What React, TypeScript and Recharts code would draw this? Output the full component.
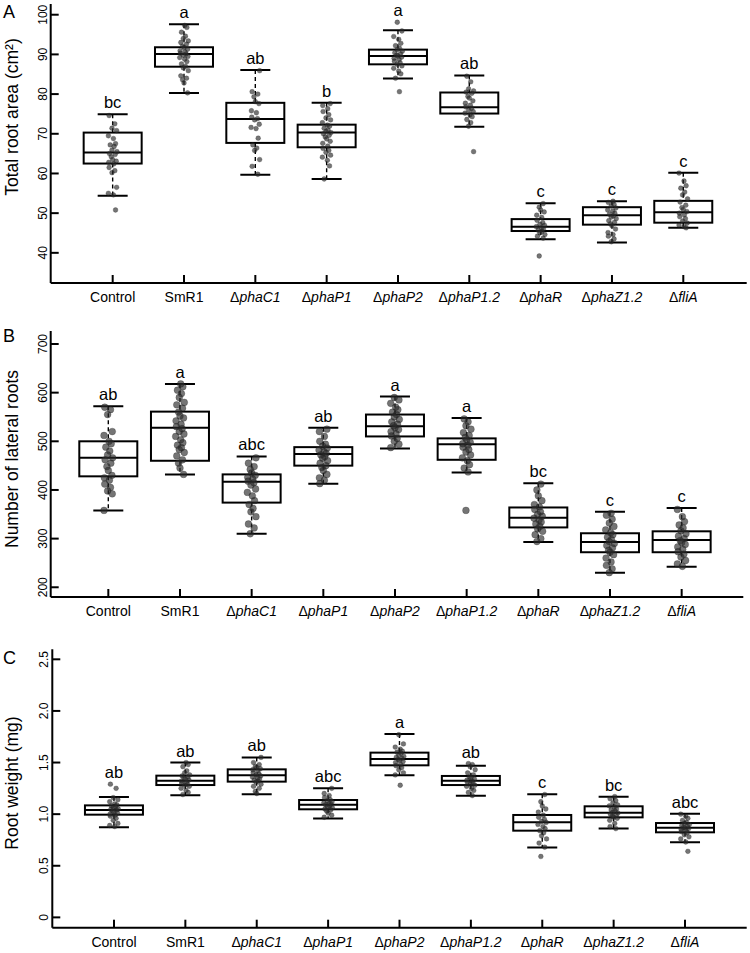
import React from 'react';
import { ComposedChart, Bar, Scatter, XAxis, YAxis } from 'recharts';

const FONT = '"Liberation Sans", Arial, Helvetica, sans-serif';

const GROUPS = ['Control', 'SmR1', 'ΔphaC1', 'ΔphaP1', 'ΔphaP2', 'ΔphaP1.2', 'ΔphaR', 'ΔphaZ1.2', 'ΔfliA'];

// small horizontal offsets (in category units) for the jittered dots
const JITTER = [-0.05, 0.03, -0.01, 0.055, -0.06, 0.01, 0.04, -0.035, 0.02, -0.01, 0.06, -0.045, 0.035, -0.02, 0.0, 0.05, -0.055, 0.015];

// Panel A: total root area (cm2) -- [min, q1, median, q3, max]
const AREA_BOX = [
  [54.4, 62.5, 65.3, 70.3, 74.9],
  [80.3, 86.9, 90.1, 91.8, 97.6],
  [59.7, 67.7, 73.7, 77.8, 86.1],
  [58.6, 66.6, 70.3, 72.3, 77.8],
  [83.9, 87.5, 89.6, 91.2, 96.1],
  [71.8, 75.1, 76.7, 80.4, 84.7],
  [43.4, 45.5, 46.6, 48.5, 52.5],
  [42.6, 47.1, 49.5, 51.5, 53.0],
  [46.3, 47.6, 50.2, 53.1, 60.2],
];
const AREA_LETTERS = ['bc', 'a', 'ab', 'b', 'a', 'ab', 'c', 'c', 'c'];
const AREA_POINTS = [
  [74.6, 72.5, 71.4, 70.8, 69.5, 68.8, 67.5, 67.2, 66.8, 65.9, 65.5, 65.0, 64.8, 64.2, 63.5, 63.1, 62.8, 62.4, 61.5, 60.7, 60.2, 56.5, 55.0, 54.6, 50.8],
  [97.3, 96.8, 95.6, 94.6, 94.0, 93.4, 93.0, 92.6, 92.1, 91.7, 91.3, 90.9, 90.6, 90.3, 90.1, 89.8, 89.5, 89.2, 88.8, 88.2, 87.6, 87.0, 86.6, 85.9, 84.6, 84.0, 83.6, 82.8, 80.3],
  [85.9, 80.6, 80.0, 79.3, 78.1, 77.6, 75.8, 75.3, 74.2, 73.8, 73.5, 72.4, 71.6, 71.3, 68.9, 67.2, 66.4, 65.8, 63.5, 61.8, 59.8],
  [77.6, 77.1, 76.3, 75.6, 74.8, 74.0, 73.5, 72.8, 72.2, 71.9, 71.4, 70.9, 70.6, 70.3, 70.0, 69.6, 69.2, 68.7, 68.1, 67.6, 66.9, 66.3, 65.8, 65.3, 64.6, 64.1, 63.3, 61.9, 58.6],
  [98.1, 95.9, 94.5, 93.8, 92.8, 92.2, 91.6, 91.2, 90.8, 90.4, 90.1, 89.8, 89.6, 89.3, 89.0, 88.7, 88.3, 87.9, 87.5, 87.1, 86.5, 85.8, 85.1, 84.0, 80.6],
  [84.5, 83.1, 81.3, 80.8, 80.5, 80.2, 79.4, 79.0, 78.3, 77.7, 77.2, 76.8, 76.4, 76.0, 75.6, 75.2, 74.8, 74.3, 73.6, 72.8, 71.9, 65.5],
  [52.4, 51.5, 50.8, 50.3, 49.5, 48.9, 48.2, 47.6, 47.2, 46.9, 46.6, 46.3, 46.0, 45.7, 45.4, 45.0, 44.6, 44.2, 43.7, 39.2],
  [53.0, 52.7, 52.2, 51.8, 51.3, 50.8, 50.5, 50.0, 49.7, 49.3, 49.0, 48.6, 48.1, 47.7, 47.3, 46.8, 46.0, 45.1, 44.6, 44.2, 43.5, 42.8],
  [60.1, 58.1, 56.9, 56.3, 55.3, 54.6, 53.6, 52.8, 52.0, 51.4, 50.9, 50.4, 50.0, 49.6, 49.1, 48.6, 48.0, 47.5, 47.0, 46.6, 46.3],
];
const AREA_TICKS = [40, 50, 60, 70, 80, 90, 100];

// Panel B: number of lateral roots
const LATERAL_BOX = [
  [358, 428, 466, 500, 572],
  [432, 460, 528, 561, 618],
  [310, 374, 417, 432, 469],
  [413, 450, 474, 488, 528],
  [485, 510, 531, 555, 592],
  [436, 462, 494, 506, 548],
  [293, 323, 343, 364, 414],
  [230, 272, 293, 311, 355],
  [242, 272, 297, 315, 363],
];
const LATERAL_LETTERS = ['ab', 'a', 'abc', 'ab', 'a', 'a', 'bc', 'c', 'c'];
const LATERAL_POINTS = [
  [570, 565, 555, 520, 512, 500, 495, 488, 480, 472, 466, 462, 455, 448, 440, 430, 425, 420, 412, 405, 398, 392, 358],
  [618, 612, 605, 598, 590, 580, 575, 568, 560, 552, 548, 542, 535, 530, 526, 520, 515, 510, 503, 497, 492, 487, 483, 477, 470, 462, 455, 445, 432],
  [466, 455, 448, 442, 435, 430, 426, 422, 418, 415, 410, 402, 395, 388, 378, 370, 362, 355, 345, 330, 322, 310],
  [525, 520, 510, 500, 494, 490, 486, 482, 478, 475, 472, 468, 465, 460, 455, 450, 446, 440, 432, 425, 420, 413],
  [590, 585, 578, 570, 565, 560, 555, 550, 545, 540, 535, 532, 528, 524, 520, 515, 511, 506, 500, 494, 487],
  [546, 540, 532, 525, 518, 512, 508, 503, 498, 495, 492, 488, 483, 478, 472, 466, 460, 452, 445, 437, 358],
  [412, 400, 388, 378, 370, 365, 360, 355, 350, 346, 342, 338, 334, 330, 325, 320, 315, 308, 300, 294],
  [352, 348, 340, 332, 325, 318, 312, 308, 303, 298, 294, 290, 286, 281, 276, 272, 267, 260, 252, 245, 238, 230],
  [360, 345, 335, 328, 322, 316, 310, 305, 300, 296, 292, 288, 283, 278, 273, 268, 262, 255, 248, 243],
];
const LATERAL_TICKS = [200, 300, 400, 500, 600, 700];

// Panel C: root weight (mg)
const WEIGHT_BOX = [
  [0.872, 0.995, 1.04, 1.085, 1.166],
  [1.182, 1.282, 1.324, 1.373, 1.5],
  [1.192, 1.315, 1.376, 1.434, 1.55],
  [0.959, 1.047, 1.092, 1.137, 1.25],
  [1.376, 1.473, 1.534, 1.596, 1.776],
  [1.179, 1.282, 1.324, 1.37, 1.47],
  [0.678, 0.84, 0.921, 0.992, 1.192],
  [0.862, 0.969, 1.014, 1.076, 1.169],
  [0.727, 0.824, 0.869, 0.914, 1.005],
];
const WEIGHT_LETTERS = ['ab', 'ab', 'ab', 'abc', 'a', 'ab', 'c', 'bc', 'abc'];
const WEIGHT_POINTS = [
  [1.29, 1.25, 1.16, 1.14, 1.12, 1.10, 1.09, 1.08, 1.07, 1.06, 1.05, 1.045, 1.04, 1.03, 1.02, 1.01, 1.0, 0.99, 0.98, 0.96, 0.94, 0.91, 0.89, 0.88],
  [1.5, 1.48, 1.46, 1.42, 1.4, 1.38, 1.37, 1.36, 1.35, 1.34, 1.33, 1.32, 1.31, 1.3, 1.29, 1.28, 1.27, 1.25, 1.23, 1.21, 1.19],
  [1.55, 1.5, 1.48, 1.46, 1.45, 1.44, 1.43, 1.42, 1.4, 1.39, 1.38, 1.37, 1.36, 1.35, 1.34, 1.33, 1.32, 1.31, 1.29, 1.27, 1.25, 1.22, 1.2],
  [1.25, 1.2, 1.18, 1.16, 1.14, 1.13, 1.12, 1.11, 1.1, 1.095, 1.09, 1.08, 1.07, 1.06, 1.05, 1.04, 1.03, 1.01, 0.99, 0.97],
  [1.77, 1.68, 1.65, 1.63, 1.61, 1.6, 1.59, 1.57, 1.56, 1.55, 1.54, 1.53, 1.52, 1.51, 1.5, 1.48, 1.47, 1.45, 1.43, 1.4, 1.38, 1.28],
  [1.49, 1.48, 1.46, 1.43, 1.4, 1.38, 1.36, 1.35, 1.34, 1.33, 1.32, 1.31, 1.3, 1.29, 1.28, 1.27, 1.25, 1.23, 1.21, 1.18],
  [1.19, 1.12, 1.08, 1.05, 1.02, 0.99, 0.97, 0.95, 0.93, 0.92, 0.9, 0.88, 0.86, 0.84, 0.82, 0.79, 0.76, 0.72, 0.68, 0.59],
  [1.17, 1.15, 1.13, 1.11, 1.09, 1.08, 1.07, 1.05, 1.04, 1.03, 1.02, 1.01, 1.0, 0.99, 0.98, 0.97, 0.96, 0.94, 0.91, 0.88, 0.86],
  [1.0, 0.98, 0.96, 0.94, 0.92, 0.91, 0.9, 0.89, 0.88, 0.87, 0.865, 0.86, 0.85, 0.84, 0.83, 0.82, 0.8, 0.78, 0.76, 0.73, 0.64],
];
const WEIGHT_TICKS = [0, 0.5, 1.0, 1.5, 2.0, 2.5];

const CAT_TICKS = [1, 2, 3, 4, 5, 6, 7, 8, 9];

const buildRows = (box: number[][], points: number[][], letters: string[]) =>
  box.map((b, i) => ({
    x: i + 1,
    min: b[0], q1: b[1], med: b[2], q3: b[3], max: b[4],
    top: Math.max(b[4], ...points[i]),
    letter: letters[i],
  }));

const buildDots = (points: number[][]) =>
  points.flatMap((vals, i) => vals.map((v, j) => ({ x: i + 1 + JITTER[(j + i * 5) % JITTER.length], y: v })));

const BoxShape = (props: any) => {
  const { x, y, width, height, payload } = props;
  if (payload == null) return null;
  const cx = x + width / 2;
  const pTop = Math.min(y, y + height);
  const pBot = Math.max(y, y + height);
  const span = payload.max - payload.min;
  const py = (v: number) => pTop + ((payload.max - v) / span) * (pBot - pTop);
  const bw = 29;
  const cw = 15;
  return (
    <g>
      <line x1={cx} x2={cx} y1={py(payload.max)} y2={py(payload.q3)} stroke="#000" strokeWidth={1.4} strokeDasharray="4 3" />
      <line x1={cx} x2={cx} y1={py(payload.q1)} y2={py(payload.min)} stroke="#000" strokeWidth={1.4} strokeDasharray="4 3" />
      <line x1={cx - cw} x2={cx + cw} y1={py(payload.max)} y2={py(payload.max)} stroke="#000" strokeWidth={2} />
      <line x1={cx - cw} x2={cx + cw} y1={py(payload.min)} y2={py(payload.min)} stroke="#000" strokeWidth={2} />
      <rect x={cx - bw} y={py(payload.q3)} width={bw * 2} height={py(payload.q1) - py(payload.q3)} fill="#fff" stroke="#000" strokeWidth={2} />
      <line x1={cx - bw} x2={cx + bw} y1={py(payload.med)} y2={py(payload.med)} stroke="#000" strokeWidth={2} />
      <text x={cx} y={py(payload.top) - 6} textAnchor="middle" fontFamily={FONT} fontSize={16.5} fill="#000">
        {payload.letter}
      </text>
    </g>
  );
};

// x ticks: label sits 19px below the axis, tick mark points 8px into the plot
const XTick = (props: any) => {
  const { x, y, payload } = props;
  const name = GROUPS[Math.round(payload.value) - 1] || '';
  const delta = name.startsWith('Δ');
  return (
    <g>
      <line x1={x} x2={x} y1={y - 19} y2={y - 27} stroke="#000" strokeWidth={2} />
      <text x={x} y={y} textAnchor="middle" fontFamily={FONT} fontSize={14} fill="#000">
        {delta ? (
          <>
            <tspan>Δ</tspan>
            <tspan fontStyle="italic">{name.slice(1)}</tspan>
          </>
        ) : name}
      </text>
    </g>
  );
};

const makeYTick = (fmt: (v: number) => string) => (props: any) => {
  const { x, y, payload } = props;
  return (
    <g>
      <line x1={x + 4} x2={x + 12} y1={y} y2={y} stroke="#000" strokeWidth={2} />
      <text x={x} y={y} transform={`rotate(-90 ${x} ${y})`} textAnchor="middle" fontFamily={FONT} fontSize={12} fill="#000">
        {fmt(payload.value)}
      </text>
    </g>
  );
};

interface PanelProps {
  tag: string;
  title: string;
  titleY: number;
  tagY: number;
  height: number;
  margin: { top: number; right: number; bottom: number; left: number };
  yWidth: number;
  xDomain: [number, number];
  yDomain: [number, number];
  yTicks: number[];
  fmt: (v: number) => string;
  box: number[][];
  points: number[][];
  letters: string[];
  r: number;
}

const FRAME = { stroke: '#000', strokeWidth: 2 };

const Panel = (p: PanelProps) => {
  const rows = buildRows(p.box, p.points, p.letters);
  const dots = buildDots(p.points);
  const YTick = makeYTick(p.fmt);
  const axisLabel = () => (
    <g>
      <text x={3} y={p.tagY} fontFamily={FONT} fontSize={18} fill="#000">{p.tag}</text>
      <text x={18} y={p.titleY} transform={`rotate(-90 18 ${p.titleY})`} textAnchor="middle" fontFamily={FONT} fontSize={17.5} fill="#000">
        {p.title}
      </text>
    </g>
  );
  return (
    <ComposedChart width={750} height={p.height} data={rows} margin={p.margin}>
      <XAxis
        dataKey="x"
        type="number"
        domain={p.xDomain}
        allowDataOverflow
        ticks={CAT_TICKS}
        interval={0}
        height={20}
        axisLine={FRAME}
        tickLine={false}
        tickSize={0}
        tickMargin={19}
        tick={<XTick />}
      />
      {/* top and right edges of the frame */}
      <XAxis xAxisId="top" orientation="top" type="number" domain={p.xDomain} allowDataOverflow height={0} axisLine={FRAME} tick={false} tickLine={false} />
      <YAxis yAxisId="right" orientation="right" type="number" domain={p.yDomain} allowDataOverflow width={0} axisLine={FRAME} tick={false} tickLine={false} />
      <YAxis
        type="number"
        domain={p.yDomain}
        allowDataOverflow
        ticks={p.yTicks}
        interval={0}
        width={p.yWidth}
        axisLine={FRAME}
        tickLine={false}
        tickSize={0}
        tickMargin={4}
        tick={<YTick />}
        label={axisLabel}
      />
      <Bar dataKey={(d: any) => [d.min, d.max]} barSize={58} isAnimationActive={false} shape={(s: any) => <BoxShape {...s} />} />
      <Scatter
        data={dots}
        dataKey="y"
        isAnimationActive={false}
        shape={(s: any) => <circle cx={s.cx} cy={s.cy} r={p.r} fill="#2b2b2b" fillOpacity={0.65} stroke="#1a1a1a" strokeOpacity={0.5} strokeWidth={0.5} />}
      />
    </ComposedChart>
  );
};

export default function App() {
  return (
    <div style={{ position: 'absolute', left: 0, top: 0, width: 750, height: 953, background: '#fff' }}>
      <Panel
        tag="A"
        title="Total root area (cm²)"
        titleY={117}
        tagY={18}
        height={310}
        margin={{ top: 4, right: 3.3, bottom: 7, left: 0 }}
        yWidth={50.7}
        xDomain={[0.131, 9.889]}
        yDomain={[32.4, 102.7]}
        yTicks={AREA_TICKS}
        fmt={(v) => String(v)}
        box={AREA_BOX}
        points={AREA_POINTS}
        letters={AREA_LETTERS}
        r={2.4}
      />
      <Panel
        tag="B"
        title="Number of lateral roots"
        titleY={149}
        tagY={32}
        height={310}
        margin={{ top: 21, right: 6.7, bottom: 3, left: 0 }}
        yWidth={50.7}
        xDomain={[0.196, 9.86]}
        yDomain={[180, 726.7]}
        yTicks={LATERAL_TICKS}
        fmt={(v) => String(v)}
        box={LATERAL_BOX}
        points={LATERAL_POINTS}
        letters={LATERAL_LETTERS}
        r={3.4}
      />
      <Panel
        tag="C"
        title="Root weight (mg)"
        titleY={163}
        tagY={44}
        height={333}
        margin={{ top: 29.3, right: 3.3, bottom: 5.3, left: 0 }}
        yWidth={52.3}
        xDomain={[0.136, 9.864]}
        yDomain={[-0.1, 2.597]}
        yTicks={WEIGHT_TICKS}
        fmt={(v) => (v === 0 ? '0' : v.toFixed(1))}
        box={WEIGHT_BOX}
        points={WEIGHT_POINTS}
        letters={WEIGHT_LETTERS}
        r={2.4}
      />
    </div>
  );
}
